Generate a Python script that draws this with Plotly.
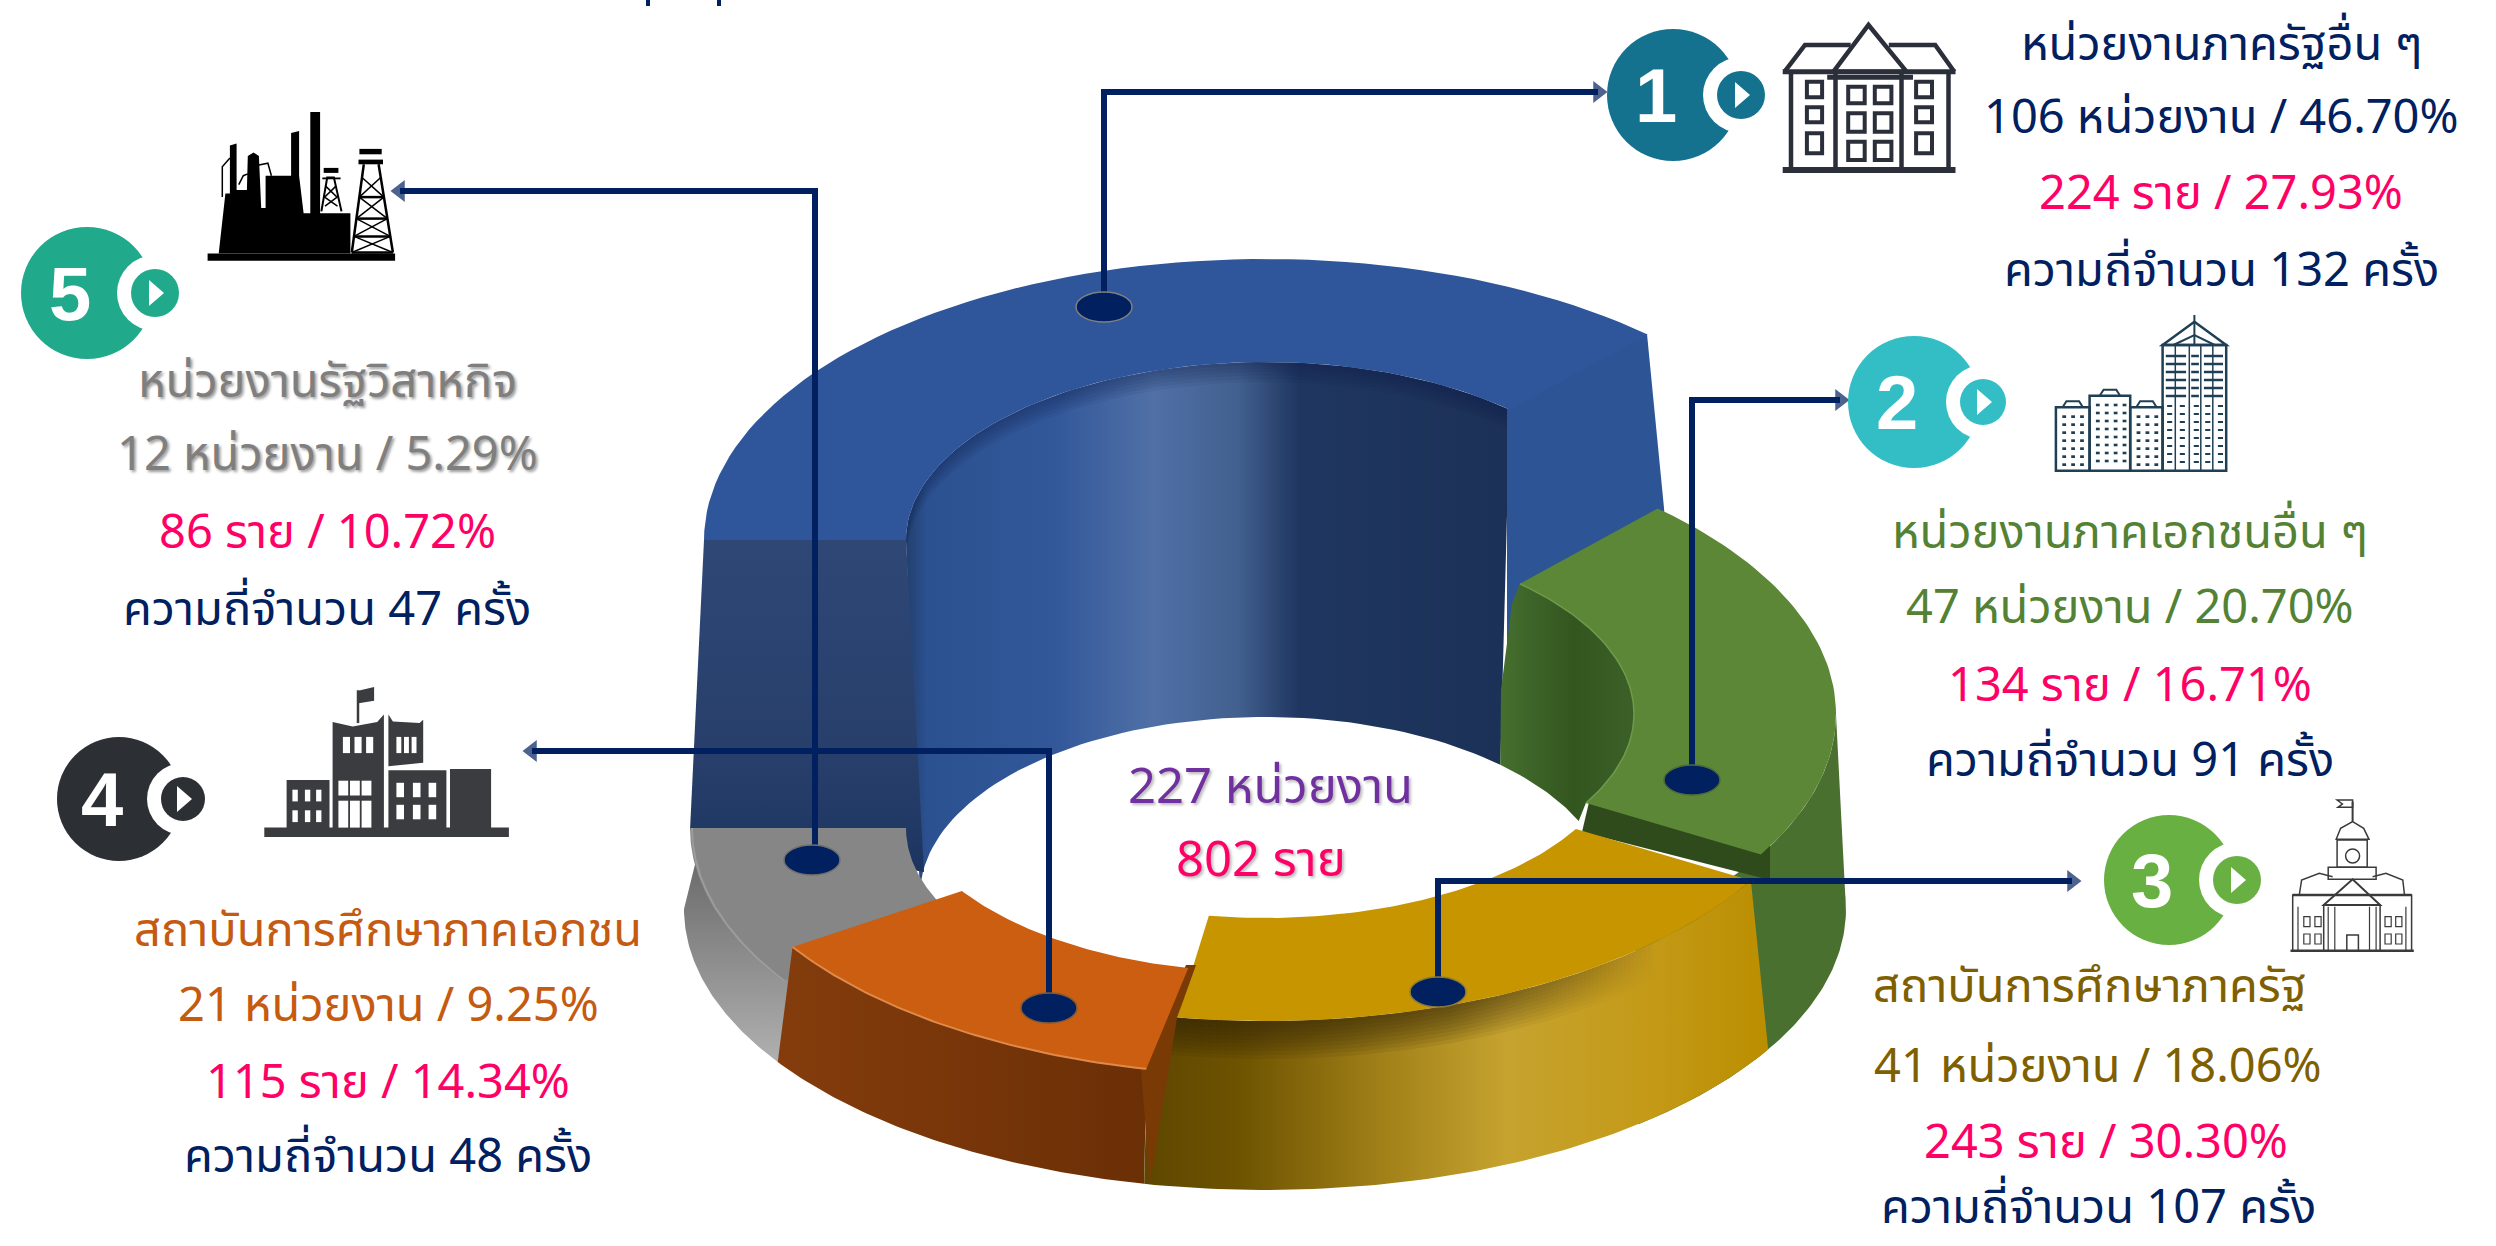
import numpy as np
import plotly.graph_objects as go

# values from the picture, order 1..5 as numbered on the badges
categories = [
    "หน่วยงานภาครัฐอื่น ๆ",
    "หน่วยงานภาคเอกชนอื่น ๆ",
    "สถาบันการศึกษาภาครัฐ",
    "สถาบันการศึกษาภาคเอกชน",
    "หน่วยงานรัฐวิสาหกิจ",
]
agency_counts = [106, 47, 41, 21, 12]
agency_pct = ["46.70", "20.70", "18.06", "9.25", "5.29"]
people_counts = [224, 134, 243, 115, 86]
people_pct = ["27.93", "16.71", "30.30", "14.34", "10.72"]
frequency = [132, 91, 107, 48, 47]
total_agencies = 227
total_people = 802
# slice angles as drawn in the picture (degrees), same order
slice_sweep = [133, 77, 72, 45, 33]

NAVY = "#002060"
PINK = "#ff0066"
FONT = "Noto Sans Thai, Noto Sans, Liberation Sans, sans-serif"

# ring geometry
CX = 1265
RX_OUT, RY_OUT = 561, 281
RX_IN, RY_IN = 359, 178
BASE_CY, BASE_RX, BASE_RY = 909, 581, 281
HOLE_CY, HOLE_RX, HOLE_RY = 895, 345, 178
START_ANGLE = 47

# running counter-clockwise from the top right: blue, grey, orange, yellow, green
angles = {}
a = START_ANGLE
for i in [0, 4, 3, 2, 1]:
    angles[i] = (a, a + slice_sweep[i])
    a += slice_sweep[i]
BLUE, GREEN, YELLOW, ORANGE, GREY = 0, 1, 2, 3, 4


def arc(cx, cy, rx, ry, a0, a1, n=70):
    t = np.radians(np.linspace(a0, a1, n))
    return list(cx + rx * np.cos(t)), list(cy - ry * np.sin(t))


def top_sector(cx, cy, a0, a1, rx=RX_OUT, rx_in=RX_IN):
    x1, y1 = arc(cx, cy, rx, RY_OUT, a0, a1)
    x2, y2 = arc(cx, cy, rx_in, RY_IN, a1, a0)
    return x1 + x2, y1 + y2


def outer_side(cx, cy, a0, a1):
    x1, y1 = arc(cx, cy, RX_OUT, RY_OUT, a0, a1)
    x2, y2 = arc(CX, BASE_CY, BASE_RX, BASE_RY, a1, a0)
    return x1 + x2, y1 + y2


fig = go.Figure()


def fill(xy, color=None, gradient=None, line=None):
    x, y = xy
    kw = {}
    if gradient:
        kw["fillgradient"] = gradient
    else:
        kw["fillcolor"] = color
    fig.add_scatter(x=x, y=y, mode="lines", fill="toself", line={"width": 0, "color": line or "rgba(0,0,0,0)"},
                    hoverinfo="skip", showlegend=False, **kw)


def edge(xy, color, width=2):
    fig.add_scatter(x=xy[0], y=xy[1], mode="lines", line={"color": color, "width": width},
                    hoverinfo="skip", showlegend=False)


def hgrad(*stops):
    return {"type": "horizontal", "colorscale": [list(s) for s in stops]}


def vgrad(*stops):
    return {"type": "vertical", "colorscale": [list(s) for s in stops]}


def shade(cx, cy, rx, ry, a0, a1, depth, rgb, n=8, alpha=0.09, fade=False):
    # soft shadow under a curved edge, stacked thin ribbons
    for k in range(1, n + 1):
        x1, y1 = arc(cx, cy, rx, ry, a0, a1)
        x2, y2 = arc(cx, cy + depth * k / n, rx, ry, a1, a0)
        if fade:
            fill((x1 + x2, y1 + y2), gradient=hgrad(
                (0, f"rgba({rgb},{alpha})"), (0.5, f"rgba({rgb},{alpha * 0.8})"), (0.85, f"rgba({rgb},0)"), (1, f"rgba({rgb},0)")))
        else:
            fill((x1 + x2, y1 + y2), f"rgba({rgb},{alpha})")


# blue, raised part
a0, a1 = angles[BLUE]
CY_BLUE = 540
wx1, wy1 = arc(CX, CY_BLUE, RX_IN, RY_IN, a0, a1)
wx2, wy2 = arc(CX, HOLE_CY, HOLE_RX, HOLE_RY, a1, a0)
fill((wx1 + wx2, wy1 + wy2), gradient=hgrad(
    (0, "#22406f"), (0.035, "#2c5190"), (0.25, "#33589a"), (0.41, "#5070a6"),
    (0.55, "#42608f"), (0.65, "#1f3660"), (1, "#1b3157")))
shade(CX, CY_BLUE, RX_IN, RY_IN, a0, a1, 20, "20,35,65", n=6, alpha=0.07)
fill(([1507, 1647, 1664, 1668, 1529, 1507], [409, 334, 508, 570, 660, 660]), "#2d5595")
fill(([704, 906, 924, 690], [540, 540, 872, 830]), gradient=vgrad((0, "#1c3560"), (0.35, "#283f6b"), (1, "#2e4775")))
fill(top_sector(CX, CY_BLUE, a0, a1), "#2f569b")

# green
a0, a1 = angles[GREEN]
CX_GREEN, CY_GREEN = 1275, 714
x1, y1 = arc(CX_GREEN, CY_GREEN, RX_IN, RY_IN, a1, a0)
x2, y2 = arc(CX, HOLE_CY, HOLE_RX, HOLE_RY, 24.6, 47, n=20)
fill((x1 + x2 + [1501, 1512], y1 + y2 + [690, 604]),
     gradient=hgrad((0, "#456f2f"), (0.55, "#33561f"), (1, "#3b6028")))
fill(outer_side(CX_GREEN, CY_GREEN, 3, -50), "#4a7030")
fill(([1590, 1770, 1770, 1582], [798, 846, 880, 832]), "#2f4b1c")
fill(top_sector(CX_GREEN, CY_GREEN, a0, a1), "#5b8736")
edge(arc(CX_GREEN, CY_GREEN, RX_IN, RY_IN, a0, a1), "#6f9a4c", 1.5)

# grey
a0, a1 = angles[GREY]
CY_GREY = 828
fill(outer_side(CX, CY_GREY, a0, a1), gradient=vgrad((0, "#b0b0b0"), (0.45, "#8c8c8c"), (1, "#5f5f5f")))
fill(top_sector(CX, CY_GREY, a0, a1, rx=575), "#868686")
edge(arc(CX, CY_GREY, 573, RY_OUT, a0, a1), "#9c9c9c", 2)

# yellow
a0, a1 = angles[YELLOW]
CY_YELLOW = 740
fill(outer_side(CX, CY_YELLOW, a0, a1), gradient=hgrad(
    (0, "#5f4700"), (0.15, "#6d5200"), (0.38, "#a08018"), (0.58, "#c6a32f"), (0.8, "#c49a18"), (1, "#bb8e00")))
shade(CX, CY_YELLOW, RX_OUT, RY_OUT, a0, a1, 38, "50,35,0", n=10, alpha=0.11, fade=True)
# the top face starts a little past the orange end, as in the picture
fill(top_sector(CX, CY_YELLOW, a0 + 3, a1), "#c69500")

# orange
a0, a1 = angles[ORANGE]
CX_ORANGE, CY_ORANGE = 1263, 794
fill(outer_side(CX_ORANGE, CY_ORANGE, a0, a1), gradient=hgrad((0, "#843c0c"), (1, "#6b2f06")))
fill(([1186, 1196, 1177, 1150, 1141], [965, 965, 1018, 1183, 1069]), "#7a3a06")
fill(top_sector(CX_ORANGE, CY_ORANGE, a0, a1), "#cb5e10")
edge(arc(CX_ORANGE, CY_ORANGE, RX_OUT, RY_OUT, a0, a1), "#e08a4a", 2)

# leader lines from the dots to the badges
leaders = [
    ([1104, 1104, 1598], [307, 92, 92], "triangle-right"),
    ([1692, 1692, 1840], [780, 400, 400], "triangle-right"),
    ([1438, 1438, 2072], [992, 881, 881], "triangle-right"),
    ([1049, 1049, 532], [1008, 751, 751], "triangle-left"),
    ([815, 815, 400], [860, 191, 191], "triangle-left"),
]
for lx, ly, sym in leaders:
    fig.add_scatter(x=lx, y=ly, mode="lines+markers", line={"color": NAVY, "width": 6},
                    marker={"symbol": ["circle", "circle", sym], "size": [0, 0, 19], "color": NAVY, "line": {"width": 0}},
                    hoverinfo="skip", showlegend=False)

shapes = []


def ellipse(cx, cy, rx, ry, color, line=None, w=0):
    shapes.append({"type": "circle", "x0": cx - rx, "x1": cx + rx, "y0": cy - ry, "y1": cy + ry,
                   "fillcolor": color, "line": {"color": line or color, "width": w}})


for dx, dy, bord in [(1104, 307, "#7f7f7f"), (1692, 780, "#4f6b3a"), (1438, 992, "#8a7a3a"),
                     (1049, 1008, "#7f5a3a"), (812, 860, "#6f6f6f")]:
    ellipse(dx, dy, 28, 15, NAVY, bord, 1.5)

annotations = []


def label(x, y, text, color, size, shadow=None, bold=False, family=FONT):
    f = {"family": family, "size": size, "color": color}
    if shadow:
        f["shadow"] = shadow
    if bold:
        f["weight"] = 700
    annotations.append({"x": x, "y": y, "text": text, "showarrow": False, "xanchor": "center", "yanchor": "middle",
                        "font": f, "xref": "x", "yref": "y"})


# numbered badges
badges = [
    (1673, 95, 66, 68, 24, "#14728f"),
    (1914, 402, 66, 69, 23, "#33bec6"),
    (2169, 880, 65, 68, 24, "#69b043"),
    (119, 799, 62, 64, 22, "#2c2f33"),
    (87, 293, 66, 68, 24, "#21a98c"),
]
for i, (bx, by, r, off, small, col) in enumerate(badges):
    ellipse(bx, by, r, r, col)
    ellipse(bx + off, by, small + 14, small + 14, "#ffffff")
    ellipse(bx + off, by, small, small, col)
    tx = bx + off
    shapes.append({"type": "path", "path": f"M{tx-6},{by-13} L{tx+9},{by} L{tx-6},{by+13} Z",
                   "fillcolor": "#ffffff", "line": {"width": 0}})
    label(bx - 17, by, str(i + 1), "#ffffff", 76, bold=True, family="Liberation Sans")


# pictograms
def poly(pts, T, color=None, line=None, w=0, close=True):
    p = "M" + " L".join("{:.1f},{:.1f}".format(*T(*q)) for q in pts) + (" Z" if close else "")
    s = {"type": "path", "path": p, "line": {"width": w, "color": line or "rgba(0,0,0,0)"}}
    if color:
        s["fillcolor"] = color
    shapes.append(s)


def box(x0, y0, x1, y1, T, color=None, line=None, w=0):
    poly([(x0, y0), (x1, y0), (x1, y1), (x0, y1)], T, color, line, w)


# 1: hall
T1 = lambda x, y: (1500 + x / 1.574, y / 3)
INK1 = "#2b2f3a"
poly([(525, 215), (580, 75), (640, 215)], T1, None, INK1, 4.5)
poly([(448, 215), (480, 135), (552, 135)], T1, None, INK1, 4.5, close=False)
poly([(612, 135), (685, 135), (715, 215)], T1, None, INK1, 4.5, close=False)
poly([(445, 215), (717, 215)], T1, None, INK1, 5, close=False)
poly([(445, 510), (717, 510)], T1, None, INK1, 6, close=False)
poly([(515, 232), (650, 232)], T1, None, INK1, 5, close=False)
for vx in [458, 528, 632, 706]:
    poly([(vx, 220), (vx, 505)], T1, None, INK1, 4.5, close=False)
for wx0, wx1_, rows in [(483, 507, [(245, 292), (322, 367), (400, 460)]), (655, 680, [(245, 292), (322, 367), (400, 460)]),
                        (548, 574, [(260, 310), (340, 395), (425, 480)]), (590, 616, [(260, 310), (340, 395), (425, 480)])]:
    for ry0, ry1 in rows:
        box(wx0, ry0, wx1_, ry1, T1, None, INK1, 4)

# 2: towers
T2 = lambda x, y: (1500 + x / 1.574, y / 3)
INK2 = "#1f3f55"
box(1043, 1035, 1143, 1412, T2, None, INK2, 2.5)
poly([(1043, 1035), (1093, 965), (1143, 1035)], T2, None, INK2, 2.5)
poly([(1060, 1035), (1093, 1005), (1125, 1035)], T2, None, INK2, 2, close=False)
poly([(1093, 945), (1093, 1035)], T2, None, INK2, 2, close=False)
for vx in [1063, 1085, 1103, 1122]:
    poly([(vx, 1035), (vx, 1412)], T2, None, INK2, 1.5, close=False)
for hy in range(1068, 1190, 24):
    for hx0, hx1 in [(1048, 1080), (1088, 1100), (1108, 1138)]:
        poly([(hx0, hy), (hx1, hy)], T2, None, INK2, 2.5, close=False)
for bx0, bx1, by0 in [(875, 928, 1222), (928, 992, 1187), (992, 1043, 1222)]:
    box(bx0, by0, bx1, 1412, T2, None, INK2, 2.5)
    bm = (bx0 + bx1) / 2
    poly([(bm - 16, by0), (bm - 10, by0 - 18), (bm + 10, by0 - 18), (bm + 16, by0)], T2, None, INK2, 2, close=False)
    for wy in range(by0 + 24, 1400, 24):
        for wx in np.arange(bx0 + 10, bx1 - 5, 14):
            box(wx, wy, wx + 6, wy + 8, T2, INK2)
for wy in range(1215, 1400, 24):
    for wx in [1050, 1070, 1092, 1110, 1130]:
        box(wx, wy, wx + 8, wy + 6, T2, INK2)

# 3: town hall
T3 = lambda x, y: (1800 + x / 2.253, 780 + y / 3)
INK3 = "#3a3a3a"
box(1110, 345, 1378, 512, T3, None, INK3, 1.5)
poly([(1105, 512), (1383, 512)], T3, None, INK3, 2.5, close=False)
poly([(1180, 375), (1245, 298), (1307, 375)], T3, None, INK3, 2)
box(1180, 375, 1307, 512, T3, None, INK3, 1.5)
box(1190, 262, 1298, 298, T3, None, INK3, 1.5)
box(1210, 180, 1278, 262, T3, None, INK3, 1.5)
poly([(1208, 178), (1218, 145), (1245, 125), (1270, 145), (1282, 178)], T3, None, INK3, 1.5)
poly([(1245, 125), (1245, 65)], T3, None, INK3, 2, close=False)
poly([(1245, 60), (1210, 60), (1222, 72), (1212, 82), (1245, 82)], T3, None, INK3, 1.5)
ellipse(*T3(1245, 228), 7, 7, "#ffffff", INK3, 1.5)
poly([(1125, 345), (1130, 300), (1170, 280), (1200, 290)], T3, None, INK3, 1.5, close=False)
poly([(1362, 345), (1358, 300), (1320, 280), (1290, 290)], T3, None, INK3, 1.5, close=False)
for wx in [1135, 1160, 1318, 1342]:
    for wy in [410, 462]:
        box(wx, wy, wx + 14, wy + 30, T3, None, INK3, 1.2)
for vx in [1122, 1190, 1205, 1283, 1298, 1365]:
    poly([(vx, 380), (vx, 512)], T3, None, INK3, 1.2, close=False)
box(1232, 465, 1258, 512, T3, None, INK3, 1.5)
poly([(1110, 345), (1378, 345)], T3, None, INK3, 2.5, close=False)

# 4: school block
T4 = lambda x, y: (x / 2.24, 680 + y / 2.9)
INK4 = "#3b3c3f"
box(592, 428, 1140, 455, T4, INK4)
box(642, 290, 738, 430, T4, INK4)
poly([(745, 430), (745, 122), (790, 135), (845, 122), (860, 100), (860, 430)], T4, INK4)
poly([(870, 250), (870, 100), (880, 120), (940, 125), (948, 115), (948, 240)], T4, INK4)
box(870, 262, 1000, 430, T4, INK4)
box(1008, 258, 1100, 430, T4, INK4)
poly([(802, 125), (802, 30)], T4, None, INK4, 2.5, close=False)
poly([(800, 32), (838, 20), (838, 60), (800, 68)], T4, INK4)
W = "#ffffff"
for wx in [655, 683, 708]:
    for wy in [318, 378]:
        box(wx, wy, wx + 12, wy + 34, T4, W)
for wx in [768, 794, 820]:
    box(wx, 165, wx + 16, 212, T4, W)
    box(wx - 10, 292, wx + 12, 335, T4, W)
    box(wx - 10, 350, wx + 12, 428, T4, W)
for wx in [888, 905, 922]:
    box(wx, 165, wx + 11, 212, T4, W)
for wx in [888, 925, 960]:
    for wy in [298, 362]:
        box(wx, wy, wx + 17, wy + 42, T4, W)

# 5: refinery
T5 = lambda x, y: (x / 2.24, 90 + y / 2.8)
K = "#000000"
box(465, 458, 885, 478, T5, K)
poly([(490, 458), (505, 290), (515, 290), (515, 155), (530, 150), (530, 280), (553, 280), (555, 185), (568, 175), (580, 185),
      (585, 330), (595, 330), (595, 240), (652, 240), (652, 120), (670, 115), (670, 240), (680, 345), (695, 345), (695, 62),
      (717, 62), (717, 345), (785, 345), (785, 458)], T5, K)
poly([(498, 300), (498, 215), (515, 190)], T5, None, K, 1.5, close=False)
poly([(535, 265), (545, 240), (555, 235)], T5, None, K, 1.5, close=False)
poly([(580, 210), (600, 205), (608, 240)], T5, None, K, 1.5, close=False)
box(805, 165, 855, 180, T5, K)
box(803, 195, 858, 208, T5, K)
poly([(788, 455), (815, 208)], T5, None, K, 2.5, close=False)
poly([(880, 455), (848, 208)], T5, None, K, 2.5, close=False)
for y0, y1 in [(245, 300), (300, 360), (360, 410), (410, 455)]:
    wl0 = 815 - (y0 - 208) * 27 / 247
    wr0 = 848 + (y0 - 208) * 32 / 247
    wl1 = 815 - (y1 - 208) * 27 / 247
    wr1 = 848 + (y1 - 208) * 32 / 247
    poly([(wl0, y0), (wr1, y1)], T5, None, K, 1.5, close=False)
    poly([(wr0, y0), (wl1, y1)], T5, None, K, 1.5, close=False)
    poly([(wl1, y1), (wr1, y1)], T5, None, K, 2.5, close=False)
poly([(720, 340), (733, 245), (748, 245), (765, 340)], T5, None, K, 2, close=False)
box(725, 218, 758, 232, T5, K)
box(722, 245, 763, 250, T5, K)
poly([(730, 270), (755, 300), (728, 325)], T5, None, K, 1.5, close=False)
poly([(752, 270), (727, 300), (756, 325)], T5, None, K, 1.5, close=False)

# clipped marks of the cut off heading
poly([(648, -2), (648, 6)], lambda x, y: (x, y), None, NAVY, 4, close=False)
poly([(719, -2), (719, 6)], lambda x, y: (x, y), None, NAVY, 4, close=False)

# text blocks
text_colors = ["#002060", "#548235", "#7f6000", "#c55a11", "#7f7f7f"]
text_x = [(2221, 2221, 2221, 2221), (2130, 2130, 2130, 2130), (2089, 2098, 2106, 2098),
          (388, 388, 388, 388), (327, 327, 327, 327)]
text_y = [(45, 118, 194, 271), (533, 608, 686, 761), (987, 1067, 1143, 1208), (931, 1006, 1083, 1157), (382, 455, 533, 610)]
SIZE = 47
for i in range(5):
    sh = "2px 2px 3px #9a9a9a" if i == 4 else None
    ys = text_y[i]
    xs = text_x[i]
    label(xs[0], ys[0], categories[i], text_colors[i], SIZE, sh)
    label(xs[1], ys[1], f"{agency_counts[i]} หน่วยงาน / {agency_pct[i]}%", text_colors[i], SIZE, sh)
    label(xs[2], ys[2], f"{people_counts[i]} ราย / {people_pct[i]}%", PINK, SIZE)
    label(xs[3], ys[3], f"ความถี่จำนวน {frequency[i]} ครั้ง", NAVY, SIZE)

label(1270, 788, f"{total_agencies} หน่วยงาน", "#7030a0", 49, "2px 2px 3px #b9b9b9")
label(1261, 861, f"{total_people} ราย", PINK, 49, "2px 2px 3px #b9b9b9")

fig.update_layout(
    width=2496,
    height=1246,
    margin={"l": 0, "r": 0, "t": 0, "b": 0},
    paper_bgcolor="#ffffff",
    plot_bgcolor="#ffffff",
    xaxis={"range": [0, 2496], "visible": False, "fixedrange": True},
    yaxis={"range": [1246, 0], "visible": False, "fixedrange": True},
    shapes=shapes,
    annotations=annotations,
    showlegend=False,
)

fig.write_html("out.html", config={"displayModeBar": False},
               post_script="document.body.style.margin='0';document.body.style.overflow='hidden';")
